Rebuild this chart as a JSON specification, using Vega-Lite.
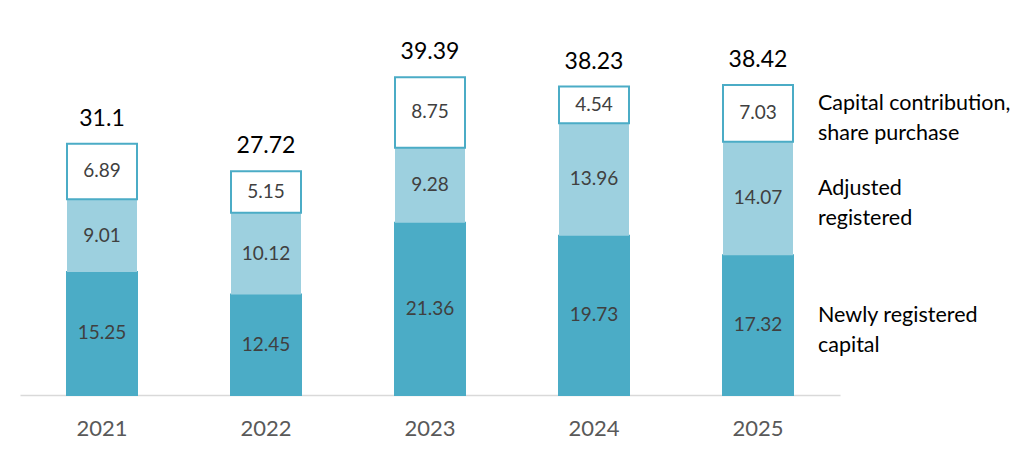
{
  "$schema": "https://vega.github.io/schema/vega-lite/v6.json",
  "width": 820,
  "height": 395,
  "autosize": "none",
  "padding": {"left": 20, "top": 0, "right": 184, "bottom": 78},
  "background": "white",
  "config": {"view": {"stroke": null}, "font": "Lato"},
  "datasets": {
    "segments": [
      {"year": "2021", "series": "Newly registered\ncapital", "k": 1, "value": 15.25},
      {"year": "2022", "series": "Newly registered\ncapital", "k": 1, "value": 12.45},
      {"year": "2023", "series": "Newly registered\ncapital", "k": 1, "value": 21.36},
      {"year": "2024", "series": "Newly registered\ncapital", "k": 1, "value": 19.73},
      {"year": "2025", "series": "Newly registered\ncapital", "k": 1, "value": 17.32},
      {"year": "2021", "series": "Adjusted\nregistered", "k": 2, "value": 9.01},
      {"year": "2022", "series": "Adjusted\nregistered", "k": 2, "value": 10.12},
      {"year": "2023", "series": "Adjusted\nregistered", "k": 2, "value": 9.28},
      {"year": "2024", "series": "Adjusted\nregistered", "k": 2, "value": 13.96},
      {"year": "2025", "series": "Adjusted\nregistered", "k": 2, "value": 14.07},
      {"year": "2021", "series": "Capital contribution,\nshare purchase", "k": 3, "value": 6.89},
      {"year": "2022", "series": "Capital contribution,\nshare purchase", "k": 3, "value": 5.15},
      {"year": "2023", "series": "Capital contribution,\nshare purchase", "k": 3, "value": 8.75},
      {"year": "2024", "series": "Capital contribution,\nshare purchase", "k": 3, "value": 4.54},
      {"year": "2025", "series": "Capital contribution,\nshare purchase", "k": 3, "value": 7.03}
    ],
    "totals": [
      {"year": "2021", "total": 31.1},
      {"year": "2022", "total": 27.72},
      {"year": "2023", "total": 39.39},
      {"year": "2024", "total": 38.23},
      {"year": "2025", "total": 38.42}
    ]
  },
  "encoding": {
    "x": {
      "field": "year",
      "type": "ordinal",
      "scale": {"paddingInner": 0, "paddingOuter": 0},
      "axis": {
        "title": null,
        "ticks": false,
        "labelAngle": 0,
        "labelFontSize": 22,
        "labelColor": "#595959",
        "labelPadding": 23,
        "domainColor": "#d9d9d9",
        "domainWidth": 1.5
      }
    }
  },
  "layer": [
    {
      "data": {"name": "segments"},
      "encoding": {
        "y": {
          "field": "value",
          "type": "quantitative",
          "stack": "zero",
          "scale": {"domain": [0, 48.95], "nice": false, "zero": true},
          "axis": null
        },
        "order": {"field": "k", "type": "quantitative"}
      },
      "layer": [
        {
          "mark": {"type": "bar", "width": 70, "strokeWidth": 2},
          "encoding": {
            "fill": {
              "field": "series",
              "type": "nominal",
              "scale": {
                "domain": ["Newly registered\ncapital", "Adjusted\nregistered", "Capital contribution,\nshare purchase"],
                "range": ["#4bacc6", "#9dd0df", "#ffffff"]
              },
              "legend": null
            },
            "stroke": {
              "field": "series",
              "type": "nominal",
              "scale": {
                "domain": ["Newly registered\ncapital", "Adjusted\nregistered", "Capital contribution,\nshare purchase"],
                "range": ["#4bacc6", "transparent", "#4bacc6"]
              },
              "legend": null
            }
          }
        },
        {
          "mark": {"type": "text", "fontSize": 19, "color": "#404040", "baseline": "middle"},
          "encoding": {
            "y": {"field": "value", "type": "quantitative", "stack": "zero", "bandPosition": 0.5},
            "text": {"field": "value", "type": "quantitative", "format": ".2f"}
          }
        },
        {
          "transform": [{"filter": "datum.year == '2025'"}],
          "mark": {"type": "text", "fontSize": 21.5, "color": "#000000", "align": "left", "baseline": "middle", "dx": 60, "dy": -9, "lineBreak": "\n", "lineHeight": 30},
          "encoding": {
            "y": {"field": "value", "type": "quantitative", "stack": "zero", "bandPosition": 0.5},
            "text": {"field": "series", "type": "nominal"}
          }
        }
      ]
    },
    {
      "data": {"name": "totals"},
      "mark": {"type": "text", "fontSize": 23, "color": "#000000", "baseline": "alphabetic", "dy": -18},
      "encoding": {
        "y": {"field": "total", "type": "quantitative"},
        "text": {"field": "total", "type": "quantitative"}
      }
    }
  ]
}
